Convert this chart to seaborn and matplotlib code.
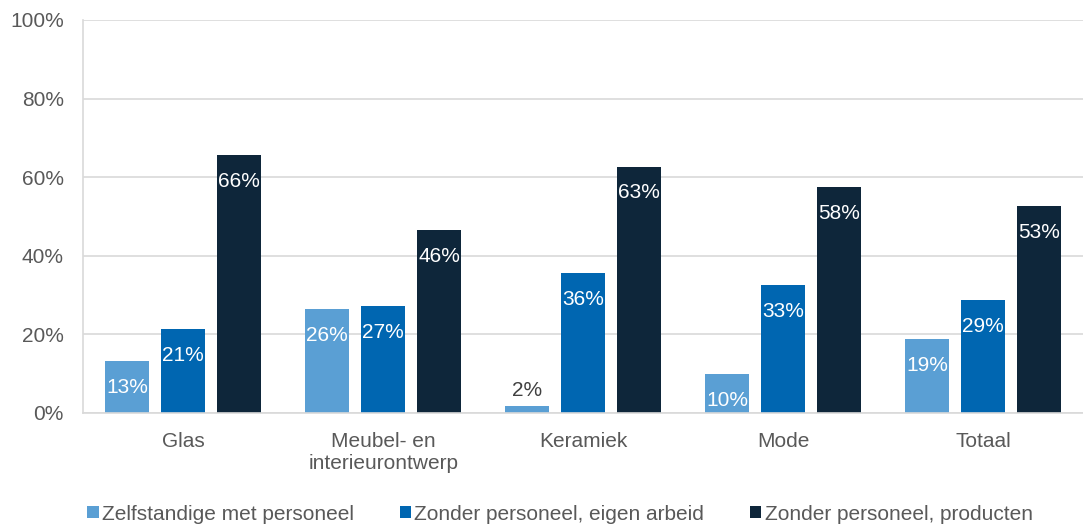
import matplotlib
matplotlib.use("Agg")
import matplotlib.pyplot as plt
import seaborn as sns
import pandas as pd
from matplotlib.patches import Patch

categories = ["Glas", "Meubel- en\ninterieurontwerp", "Keramiek", "Mode", "Totaal"]
series = ["Zelfstandige met personeel", "Zonder personeel, eigen arbeid", "Zonder personeel, producten"]
zelfstandig = [13.2, 26.5, 1.8, 9.9, 18.8]
eigen_arbeid = [21.3, 27.1, 35.6, 32.6, 28.8]
producten = [65.6, 46.5, 62.7, 57.5, 52.7]
colors = ["#5A9FD4", "#0066B1", "#0E263A"]
yticks = [0, 20, 40, 60, 80, 100]

rows = []
for s, vals in zip(series, [zelfstandig, eigen_arbeid, producten]):
    for c, v in zip(categories, vals):
        rows.append({"cat": c, "series": s, "val": v})
df = pd.DataFrame(rows)

sns.set_theme(style="white")
plt.rcParams["font.family"] = ["Liberation Sans", "DejaVu Sans"]
grey = "#595959"
fs = 15

fig = plt.figure(figsize=(10.83, 5.24), dpi=100)
ax = fig.add_axes([0.077, 0.212, 0.923, 0.75])

sns.barplot(data=df, x="cat", y="val", hue="series", order=categories,
            hue_order=series, palette=colors, width=0.84, gap=0.21,
            saturation=1, ax=ax, legend=False, errorbar=None, linewidth=0)

ax.set_ylim(0, 100)
ax.set_xlim(-0.5, len(categories) - 0.5)
ax.set_yticks(yticks)
ax.set_yticklabels([f"{t}%" for t in yticks], color=grey, fontsize=fs)
ax.tick_params(axis="x", colors=grey, labelsize=fs, length=0, pad=14)
ax.tick_params(axis="y", length=0, pad=14)
for t in ax.get_xticklabels():
    t.set_linespacing(1.15)
ax.set_xlabel("")
ax.set_ylabel("")
ax.yaxis.grid(True, color="#D9D9D9", linewidth=1.2)
ax.set_axisbelow(True)
for side in ["top", "right"]:
    ax.spines[side].set_visible(False)
for side in ["left", "bottom"]:
    ax.spines[side].set_color("#D9D9D9")
    ax.spines[side].set_linewidth(1.2)

for container in ax.containers:
    for bar in container:
        h = bar.get_height()
        x = bar.get_x() + bar.get_width() / 2
        label = f"{round(h):d}%"
        if h < 6:
            ax.annotate(label, (x, h), xytext=(0, 4), textcoords="offset points",
                        ha="center", va="bottom", color="#404040", fontsize=fs)
        else:
            ax.annotate(label, (x, h), xytext=(0, -19), textcoords="offset points",
                        ha="center", va="center", color="white", fontsize=fs)

handles = [Patch(facecolor=c, edgecolor="none") for c in colors]
leg = fig.legend(handles, series, loc="lower center", bbox_to_anchor=(0.517, -0.035),
                 ncol=3, frameon=False, fontsize=fs, handlelength=0.55,
                 handleheight=0.55, handletextpad=0.15, columnspacing=2.2)
for t in leg.get_texts():
    t.set_color(grey)

fig.savefig("out.png", dpi=100)
